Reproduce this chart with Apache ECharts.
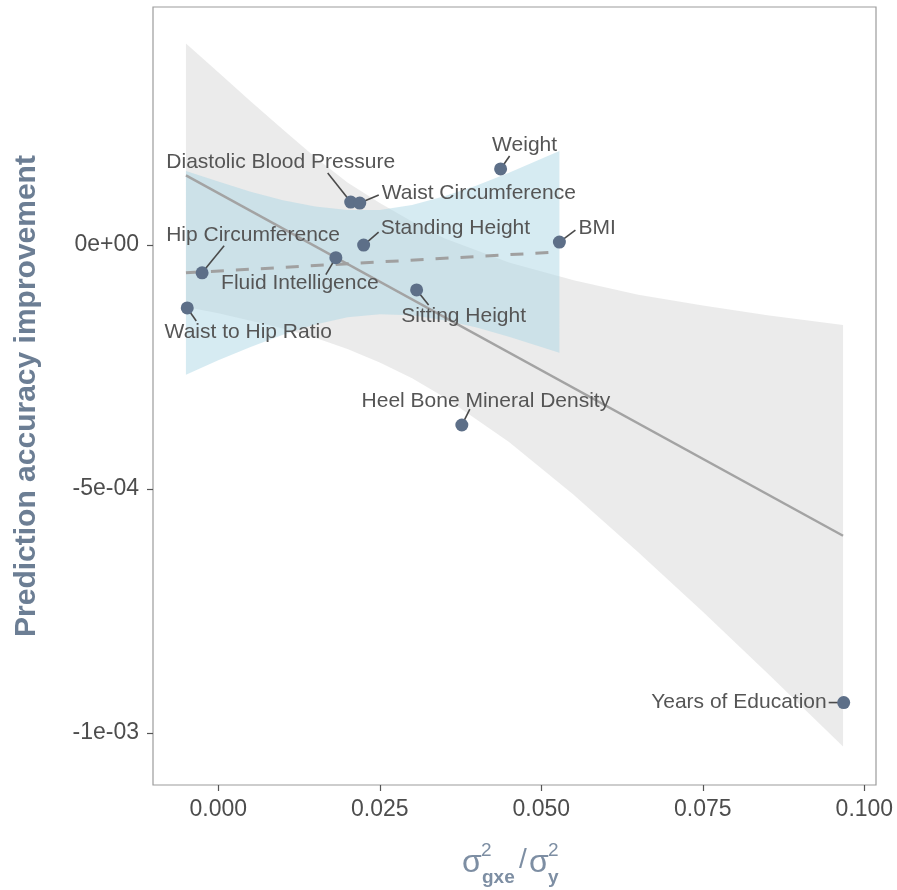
<!DOCTYPE html>
<html>
<head>
<meta charset="utf-8">
<script src="https://cdn.jsdelivr.net/npm/echarts@6/dist/echarts.min.js"></script>
<style>
html,body{margin:0;padding:0;background:#fff;}
#chart{width:897px;height:890px;}
</style>
</head>
<body>
<div id="chart"></div>
<script>
// ---- data ----
const traitNames = ['Weight','Diastolic Blood Pressure','Waist Circumference','Standing Height','BMI',
  'Hip Circumference','Fluid Intelligence','Sitting Height','Waist to Hip Ratio',
  'Heel Bone Mineral Density','Years of Education'];
const xVals = [0.0437, 0.0205, 0.0219, 0.0225, 0.0528, -0.0025, 0.0182, 0.0307, -0.0048, 0.0377, 0.0968];
const yVals = [1.56e-4, 8.8e-5, 8.6e-5, 0.0, 6e-6, -5.7e-5, -2.6e-5, -9.2e-5, -1.29e-4, -3.69e-4, -9.38e-4];

// fit line (all traits) and its 95% band
const fitAllX = [-0.005, 0.0967];
const fitAllY = [1.43e-4, -5.96e-4];
const bandAllX = [-0.005, 0.0, 0.005, 0.010, 0.015, 0.020, 0.025, 0.030, 0.035, 0.045, 0.055, 0.065, 0.075, 0.085, 0.0967];
const bandAllUp = [4.13e-4, 3.54e-4, 2.95e-4, 2.37e-4, 1.80e-4, 1.28e-4, 8.6e-5, 4.8e-5, 1.4e-5, -3.6e-5, -7.2e-5, -1.02e-4, -1.24e-4, -1.44e-4, -1.64e-4];
const bandAllLo = [-1.27e-4, -1.40e-4, -1.55e-4, -1.71e-4, -1.90e-4, -2.13e-4, -2.41e-4, -2.73e-4, -3.12e-4, -4.04e-4, -5.12e-4, -6.30e-4, -7.52e-4, -8.78e-4, -1.028e-3];

// fit line (without Years of Education) and its 95% band
const fitSubX = [-0.005, 0.0528];
const fitSubY = [-5.7e-5, -1.4e-5];
const bandSubX = [-0.005, 0.0, 0.005, 0.010, 0.015, 0.020, 0.025, 0.030, 0.035, 0.040, 0.045, 0.0528];
const bandSubUp = [1.52e-4, 1.30e-4, 1.09e-4, 9.2e-5, 7.9e-5, 7.2e-5, 7.2e-5, 8.2e-5, 1.00e-4, 1.22e-4, 1.48e-4, 1.93e-4];
const bandSubLo = [-2.66e-4, -2.36e-4, -2.09e-4, -1.84e-4, -1.63e-4, -1.48e-4, -1.42e-4, -1.44e-4, -1.54e-4, -1.69e-4, -1.88e-4, -2.21e-4];

const xTickValues = [0, 0.025, 0.05, 0.075, 0.1];
const xTickLabels = ['0.000', '0.025', '0.050', '0.075', '0.100'];
const yTickValues = [-0.001, -0.0005, 0];
const yTickLabels = ['-1e-03', '-5e-04', '0e+00'];

// ---- label layout (pixel offsets from each point) ----
const labelLayout = [
  {tx: 24, ty: -24, align: 'center', lx: 9, ly: -13},     // Weight
  {tx: -70, ty: -40, align: 'center', lx: -23, ly: -29},  // DBP
  {tx: 22, ty: -10, align: 'left', lx: 19, ly: -8},       // Waist Circ
  {tx: 17, ty: -17, align: 'left', lx: 15, ly: -13},      // Standing
  {tx: 19, ty: -14, align: 'left', lx: 16, ly: -12},      // BMI
  {tx: 51, ty: -38, align: 'center', lx: 22, ly: -27},    // Hip
  {tx: -36, ty: 25, align: 'center', lx: -10, ly: 17},    // Fluid
  {tx: 47, ty: 26, align: 'center', lx: 12, ly: 15},      // Sitting
  {tx: 61, ty: 24, align: 'center', lx: 9, ly: 13},       // WHR
  {tx: 24, ty: -24, align: 'center', lx: 8, ly: -16},     // Heel
  {tx: -17, ty: 0, align: 'right', lx: -15, ly: 0}        // YoE
];

const FONT = '"Liberation Sans", Arial, Helvetica, sans-serif';
const chart = echarts.init(document.getElementById('chart'), null, {renderer: 'canvas'});

function bandSeries(xs, up, lo, fill, z) {
  return {
    type: 'custom', z: z, silent: true, clip: true,
    data: [[xs[0], up[0]]],
    renderItem: function (params, api) {
      const pts = [];
      for (let i = 0; i < xs.length; i++) pts.push(api.coord([xs[i], up[i]]));
      for (let i = xs.length - 1; i >= 0; i--) pts.push(api.coord([xs[i], lo[i]]));
      return {type: 'polygon', shape: {points: pts}, style: {fill: fill}};
    }
  };
}

function findLabel(values, labels, v) {
  for (let i = 0; i < values.length; i++) if (Math.abs(values[i] - v) < 1e-9) return labels[i];
  return '';
}

const option = {
  animation: false,
  backgroundColor: '#ffffff',
  grid: {left: 153, right: 21, top: 7, bottom: 105, show: true, borderColor: '#9c9c9c', borderWidth: 1.2, backgroundColor: 'transparent'},
  xAxis: {
    type: 'value', min: -0.0101, max: 0.1018,
    axisLine: {show: false, onZero: false},
    splitLine: {show: false},
    axisTick: {show: true, length: 6, lineStyle: {color: '#555', width: 1.2}, customValues: xTickValues},
    axisLabel: {
      customValues: xTickValues, margin: 13, color: '#4d4d4d', fontSize: 23, fontFamily: FONT,
      formatter: v => findLabel(xTickValues, xTickLabels, v)
    }
  },
  yAxis: {
    type: 'value', min: -0.001107, max: 0.000488,
    axisLine: {show: false, onZero: false},
    splitLine: {show: false},
    axisTick: {show: true, length: 6, lineStyle: {color: '#555', width: 1.2}, customValues: yTickValues},
    axisLabel: {
      customValues: yTickValues, margin: 14, color: '#4d4d4d', fontSize: 23, fontFamily: FONT,
      formatter: v => findLabel(yTickValues, yTickLabels, v)
    },
    name: 'Prediction accuracy improvement',
    nameLocation: 'middle', nameRotate: 90, nameGap: 111,
    nameTextStyle: {color: '#6c7e94', fontSize: 30, fontWeight: 'bold', fontFamily: FONT}
  },
  graphic: [
    {type: 'text', left: 462, top: 847, style: {text: 'σ', fill: '#7d8ea3', font: '32px ' + FONT}},
    {type: 'text', left: 481, top: 841, style: {text: '2', fill: '#7d8ea3', font: '19px ' + FONT}},
    {type: 'text', left: 482, top: 868, style: {text: 'gxe', fill: '#7d8ea3', font: 'bold 19px ' + FONT}},
    {type: 'text', left: 519, top: 846, style: {text: '/', fill: '#7d8ea3', font: '28px ' + FONT}},
    {type: 'text', left: 529, top: 847, style: {text: 'σ', fill: '#7d8ea3', font: '32px ' + FONT}},
    {type: 'text', left: 548, top: 841, style: {text: '2', fill: '#7d8ea3', font: '19px ' + FONT}},
    {type: 'text', left: 548, top: 868, style: {text: 'y', fill: '#7d8ea3', font: 'bold 19px ' + FONT}}
  ],
  series: [
    bandSeries(bandAllX, bandAllUp, bandAllLo, 'rgba(153,153,153,0.2)', 1),
    bandSeries(bandSubX, bandSubUp, bandSubLo, 'rgba(173,216,230,0.5)', 2),
    {
      type: 'line', z: 3, silent: true, symbol: 'none',
      data: fitAllX.map((x, i) => [x, fitAllY[i]]),
      lineStyle: {color: '#a3a3a3', width: 2.5}
    },
    {
      type: 'line', z: 4, silent: true, symbol: 'none',
      data: fitSubX.map((x, i) => [x, fitSubY[i]]),
      lineStyle: {color: '#a0a0a0', width: 3, type: [13, 12]}
    },
    {
      type: 'custom', z: 5, silent: true,
      data: xVals.map((x, i) => [x, yVals[i], i]),
      renderItem: function (params, api) {
        const p = api.coord([api.value(0), api.value(1)]);
        const o = labelLayout[api.value(2)];
        return {
          type: 'group',
          children: [
            {type: 'line', shape: {x1: p[0], y1: p[1], x2: p[0] + o.lx, y2: p[1] + o.ly},
              style: {stroke: '#4a4a4a', lineWidth: 1.6}},
            {type: 'text', x: p[0] + o.tx, y: p[1] + o.ty,
              style: {text: traitNames[api.value(2)], fill: '#555555', font: '21px ' + FONT, align: o.align, verticalAlign: 'middle'}}
          ]
        };
      }
    },
    {
      type: 'scatter', z: 6, silent: true,
      data: xVals.map((x, i) => [x, yVals[i]]),
      symbolSize: 13,
      itemStyle: {color: '#5d6f88', opacity: 1}
    }
  ]
};
chart.setOption(option);
</script>
</body>
</html>
